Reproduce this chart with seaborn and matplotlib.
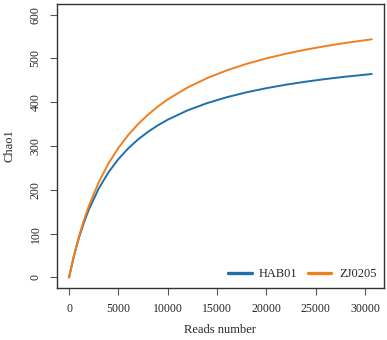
import pandas as pd
import matplotlib.pyplot as plt
import numpy as np
import seaborn as sns

reads = [0, 500, 1000, 1500, 2000, 3000, 4000, 5000, 6000, 7000, 8000, 9000, 10000,
         12000, 14000, 16000, 18000, 20000, 22000, 24000, 26000, 28000, 30700]
hab01 = [0, 49.1, 90, 124.6, 154.3, 202.5, 240, 270, 294.5, 315, 332.3, 347.1, 360,
         381.2, 397.9, 411.4, 422.6, 432, 440, 446.9, 452.9, 458.2, 464.4]
zj0205 = [0, 50, 92.9, 130, 162.5, 216.7, 260, 295.5, 325, 350, 371.4, 390, 406.3,
          433.3, 455, 472.7, 487.5, 500, 510.7, 520, 528.1, 535.3, 543.6]
samples = ['HAB01', 'ZJ0205']
colors = ['#1f6fad', '#f07f1d']

df = pd.DataFrame({'Reads': reads * 2,
                   'Chao1': hab01 + zj0205,
                   'Sample': ['HAB01'] * len(reads) + ['ZJ0205'] * len(reads)})

sns.set_style('ticks')
plt.rcParams['font.family'] = ['Liberation Serif', 'DejaVu Serif']

fig = plt.figure(figsize=(3.87, 3.40), dpi=100)
ax = fig.add_axes([0.147, 0.153, 0.845, 0.835])
sns.lineplot(data=df, x='Reads', y='Chao1', hue='Sample', hue_order=samples,
             palette=colors, linewidth=1.4, ax=ax, legend=False)

ax.set_xlim(-1228, 31928)
ax.set_ylim(-24, 624)
ax.set_xticks([0, 5000, 10000, 15000, 20000, 25000, 30000])
ax.set_yticks([0, 100, 200, 300, 400, 500, 600])
ax.tick_params(axis='both', direction='out', length=5, width=0.8, labelsize=8.5,
               color='#555555', pad=6)
for lab in ax.get_yticklabels():
    lab.set_rotation(90)
    lab.set_va('center')
for s in ax.spines.values():
    s.set_visible(True)
    s.set_color('#333333')
    s.set_linewidth(1.0)
ax.set_xlabel('Reads number', fontsize=9, labelpad=6)
ax.set_ylabel('Chao1', fontsize=9, labelpad=10)

handles = [plt.Line2D([], [], color=c, lw=2.4) for c in colors]
ax.legend(handles, samples, loc='lower right', ncol=2, frameon=False, fontsize=9,
          handlelength=1.9, columnspacing=0.8, handletextpad=0.6,
          borderaxespad=0.2)

fig.savefig('out.png', dpi=100)
